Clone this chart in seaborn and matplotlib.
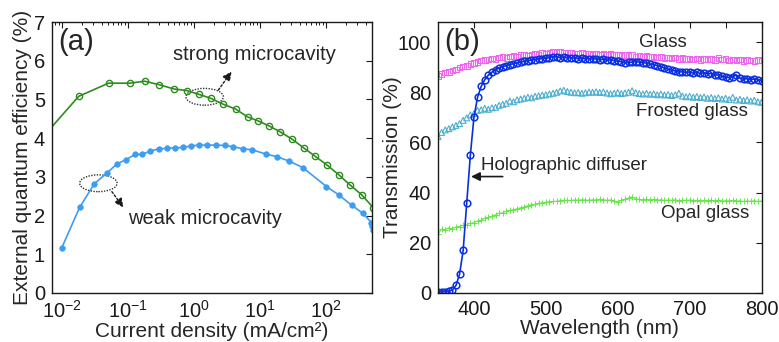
import matplotlib
matplotlib.use("Agg")
import matplotlib.pyplot as plt
import seaborn as sns
from matplotlib.patches import Ellipse
from matplotlib.ticker import MultipleLocator

# ---- panel (a): EQE vs current density ----
strong_j = [0.005, 0.018, 0.051, 0.107, 0.18, 0.30, 0.50, 0.78, 1.2, 1.8, 2.75, 4.3,
            6.5, 9.3, 14, 20, 31, 46, 69, 105, 158, 229, 347, 525]
strong_eqe = [4.0, 5.08, 5.42, 5.42, 5.47, 5.38, 5.27, 5.23, 5.13, 5.03, 4.88, 4.75,
              4.55, 4.45, 4.31, 4.17, 3.97, 3.75, 3.53, 3.30, 3.05, 2.80, 2.54, 2.20]

weak_j = [0.01, 0.0186, 0.031, 0.049, 0.069, 0.093, 0.129, 0.166, 0.219, 0.295, 0.398,
          0.525, 0.69, 0.91, 1.2, 1.58, 2.14, 2.95, 3.98, 5.6, 7.6, 12.3, 18.2, 27.5,
          44.7, 102, 158, 245, 363, 490, 500, 510]
weak_eqe = [1.17, 2.21, 2.82, 3.11, 3.34, 3.44, 3.58, 3.58, 3.67, 3.72, 3.74, 3.75,
            3.76, 3.80, 3.82, 3.82, 3.82, 3.81, 3.78, 3.72, 3.70, 3.59, 3.52, 3.41,
            3.24, 2.75, 2.53, 2.27, 2.06, 1.82, 1.72, 1.64]

# ---- panel (b): transmission spectra ----
wl = list(range(350, 805, 5))

glass = [86.5, 87.2, 87.8, 88.0, 88.6, 89.0, 89.8, 90.3, 90.5, 91.2, 91.6, 92.0, 92.6,
         92.8, 93.0, 93.4, 93.2, 93.8, 94.0, 93.7, 94.3, 94.5, 94.2, 94.8, 95.0, 94.7,
         95.1, 95.4, 95.0, 95.6, 95.3, 95.8, 96.0, 95.7, 96.2, 95.9, 95.6, 95.9, 95.5,
         95.3, 95.6, 95.2, 95.5, 95.1, 95.4, 95.0, 95.3, 94.9, 95.2, 94.8, 95.0, 94.6,
         94.9, 94.5, 94.8, 94.3, 94.6, 94.2, 94.5, 94.0, 94.3, 93.9, 94.1, 93.6, 93.9,
         93.5, 93.8, 93.3, 93.6, 93.2, 93.5, 93.0, 93.4, 92.9, 93.3, 93.0, 93.2, 92.8,
         93.6, 93.0, 93.2, 92.7, 93.1, 92.6, 93.0, 92.5, 92.9, 92.6, 92.4, 92.8, 92.6]

frosted = [62.4, 64.0, 65.0, 65.5, 66.2, 66.8, 67.5, 68.8, 69.8, 71.0, 71.5, 72.8, 73.0,
           73.6, 73.2, 73.8, 74.0, 74.8, 75.2, 75.6, 76.5, 76.2, 77.0, 77.3, 77.6, 78.0,
           77.8, 78.4, 78.6, 78.9, 79.0, 79.3, 79.6, 80.0, 80.5, 80.8, 80.3, 80.0, 79.8,
           79.9, 79.6, 79.8, 80.1, 80.0, 80.2, 79.9, 80.1, 79.7, 79.4, 79.6, 79.9, 79.5,
           79.7, 80.0, 80.6, 79.8, 79.5, 79.3, 79.6, 79.2, 79.4, 79.0, 79.3, 78.9, 79.1,
           78.7, 79.0, 79.6, 78.5, 78.2, 78.4, 78.0, 78.3, 77.9, 78.1, 77.6, 77.9, 77.5,
           77.8, 77.3, 77.6, 77.1, 78.0, 76.9, 77.2, 76.7, 77.0, 76.5, 76.8, 76.2, 76.0]

holo = [0.5, 0.4, 0.5, 0.6, 1.2, 3.0, 7.5, 17.0, 36.0, 55.0, 70.0, 78.0, 82.3, 85.0,
        86.8, 88.0, 89.0, 89.6, 90.2, 90.6, 91.0, 91.4, 91.7, 92.0, 92.3, 92.6, 92.8,
        93.0, 93.2, 93.4, 93.5, 93.8, 94.2, 94.0, 93.8, 93.9, 93.7, 93.8, 93.6, 93.4,
        93.5, 93.3, 93.4, 93.2, 93.3, 93.0, 93.1, 92.8, 92.9, 92.6, 92.4, 92.2, 91.6,
        91.9, 92.0, 92.2, 92.0, 91.8, 91.6, 91.2, 91.0, 90.6, 90.2, 89.6, 89.2, 88.8,
        88.5, 88.0, 88.2, 87.9, 88.1, 87.6, 87.9, 87.5, 87.8, 87.3, 87.5, 87.0, 86.8,
        86.4, 86.0, 85.8, 86.2, 86.9, 85.6, 85.2, 85.4, 85.0, 85.3, 84.9, 84.6]

opal = [23.5, 25.5, 25.2, 26.0, 25.6, 26.3, 26.5, 27.0, 27.2, 27.8, 28.0, 28.7, 29.0,
        29.8, 30.2, 30.6, 31.2, 31.8, 32.0, 32.6, 33.0, 33.2, 33.6, 34.0, 34.3, 34.8,
        35.2, 35.4, 35.8, 36.0, 36.1, 36.4, 36.5, 36.6, 36.8, 36.9, 37.0, 36.9, 37.1,
        37.0, 37.2, 37.1, 37.0, 37.2, 37.1, 37.3, 37.2, 37.0, 37.1, 36.8, 36.3, 37.0,
        37.4, 37.9, 38.3, 37.5, 37.3, 37.2, 37.4, 37.1, 37.3, 37.0, 37.2, 36.9, 37.1,
        37.0, 37.2, 36.8, 37.0, 36.9, 37.1, 36.8, 36.9, 36.7, 36.9, 36.8, 37.0, 36.7,
        36.9, 36.6, 36.8, 36.7, 36.9, 36.6, 36.8, 36.5, 36.7, 36.6, 36.8, 36.5, 36.7]

sns.set_theme(style="white")
plt.rcParams["font.family"] = ["Liberation Sans", "DejaVu Sans"]
plt.rcParams["mathtext.fontset"] = "custom"
plt.rcParams["mathtext.rm"] = "Liberation Sans"
plt.rcParams["mathtext.it"] = "Liberation Sans"
plt.rcParams["mathtext.bf"] = "Liberation Sans"

green = "#2e8c1e"
lblue = "#3d9df0"
magenta = "#ee66ee"
cyan = "#4aaed0"
dblue = "#0a2fe0"
lgreen = "#66e64a"

fig = plt.figure(figsize=(7.79, 3.42), dpi=100)
ax1 = fig.add_axes([52 / 779, 49 / 342, 320 / 779, 271 / 342])
ax2 = fig.add_axes([438 / 779, 49 / 342, 323.5 / 779, 271 / 342])

sns.lineplot(x=strong_j, y=strong_eqe, ax=ax1, color=green, linewidth=1.2,
             marker="o", markersize=4.5, markerfacecolor="none",
             markeredgecolor=green, markeredgewidth=1.0)
sns.lineplot(x=weak_j, y=weak_eqe, ax=ax1, color=lblue, linewidth=1.2,
             marker="o", markersize=4, markerfacecolor=lblue,
             markeredgecolor=lblue, markeredgewidth=0.5)
ax1.set_xscale("log")
ax1.set_xlim(0.0071, 500)
ax1.set_ylim(0, 7)
ax1.yaxis.set_major_locator(MultipleLocator(1))
ax1.set_xlabel("Current density (mA/cm²)", fontsize=15, labelpad=0)
ax1.set_ylabel("External quantum efficiency (%)", fontsize=15, labelpad=1)

ax1.text(10 ** -1.78, 6.49, "(a)", fontsize=21, ha="center", va="center")
ax1.text(10 ** 0.92, 6.15, "strong microcavity", fontsize=14.5, ha="center", va="center")
ax1.text(10 ** 0.17, 1.93, "weak microcavity", fontsize=14.5, ha="center", va="center")

for cx, cy in [(0.477, 0.724), (0.145, 0.405)]:
    ax1.add_patch(Ellipse((cx, cy), 0.117, 0.062, transform=ax1.transAxes,
                          fill=False, ec="#333333", ls=(0, (1, 1)), lw=1.0))
ax1.annotate("", xy=(0.561, 0.817), xytext=(0.520, 0.749), xycoords="axes fraction",
             arrowprops=dict(arrowstyle="-|>", ls=(0, (1.5, 1.5)), color="k", lw=1.0,
                             mutation_scale=13, shrinkA=0, shrinkB=0))
ax1.annotate("", xy=(0.223, 0.316), xytext=(0.187, 0.374), xycoords="axes fraction",
             arrowprops=dict(arrowstyle="-|>", ls=(0, (1.5, 1.5)), color="k", lw=1.0,
                             mutation_scale=13, shrinkA=0, shrinkB=0))

sns.scatterplot(x=wl, y=glass, ax=ax2, marker="s", s=16, facecolor="none",
                edgecolor=magenta, linewidth=0.8)
sns.scatterplot(x=wl, y=frosted, ax=ax2, marker="^", s=18, facecolor="none",
                edgecolor=cyan, linewidth=0.8)
sns.lineplot(x=wl, y=opal, ax=ax2, color=lgreen, linewidth=0.7,
             marker="+", markersize=4, markeredgecolor=lgreen, markeredgewidth=0.7)
sns.lineplot(x=wl, y=holo, ax=ax2, color=dblue, linewidth=1.2,
             marker="o", markersize=4.8, markerfacecolor="none",
             markeredgecolor=dblue, markeredgewidth=1.1)
ax2.set_xlim(350, 800)
ax2.set_ylim(0, 108)
ax2.xaxis.set_major_locator(MultipleLocator(100))
ax2.xaxis.set_minor_locator(MultipleLocator(50))
ax2.yaxis.set_major_locator(MultipleLocator(20))
ax2.set_xlabel("Wavelength (nm)", fontsize=15, labelpad=0)
ax2.set_ylabel("Transmission (%)", fontsize=15, labelpad=-3)

ax2.text(383, 100, "(b)", fontsize=21, ha="center", va="center")
ax2.text(663, 99.9, "Glass", fontsize=13.5, ha="center", va="center")
ax2.text(703, 72.3, "Frosted glass", fontsize=13.5, ha="center", va="center")
ax2.text(722, 31.8, "Opal glass", fontsize=13.5, ha="center", va="center")
ax2.text(410, 51, "Holographic diffuser", fontsize=13.5, ha="left", va="center")
ax2.annotate("", xy=(396, 46.4), xytext=(440, 46.4), xycoords="data",
             arrowprops=dict(arrowstyle="-|>", color="k", lw=1.2,
                             mutation_scale=13, shrinkA=0, shrinkB=0))

for ax in (ax1, ax2):
    ax.tick_params(which="both", direction="in", top=True, right=True,
                   labelsize=14.5, colors="k")
    ax.tick_params(axis="x", which="both", pad=5)
    ax.tick_params(axis="y", which="both", pad=5)
    ax.tick_params(which="major", length=4, width=0.8)
    ax.tick_params(which="minor", length=2.5, width=0.7)
    for sp in ax.spines.values():
        sp.set_color("k")
        sp.set_linewidth(1.0)
ax2.tick_params(which="minor", length=4)

fig.savefig("out.png", dpi=100)
